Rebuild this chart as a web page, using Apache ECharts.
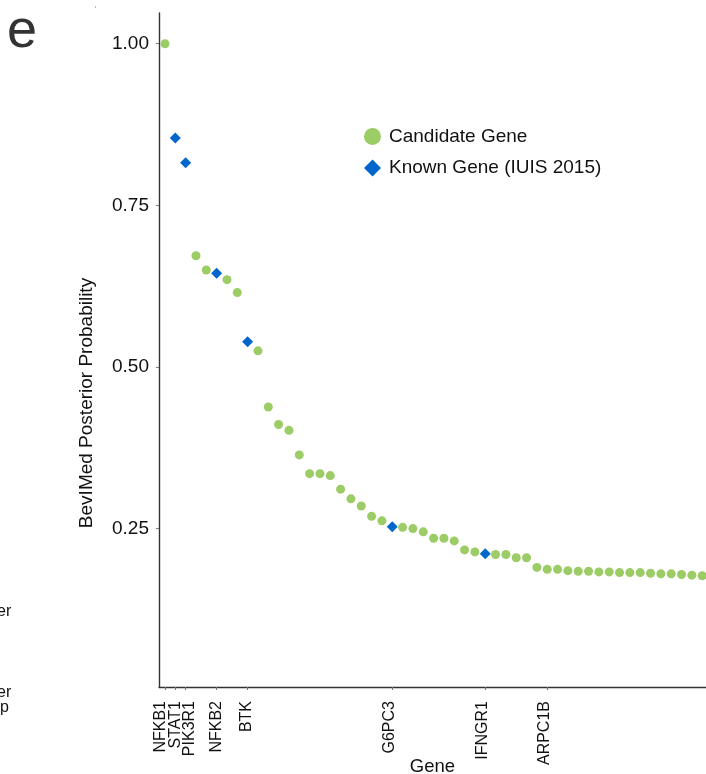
<!DOCTYPE html>
<html>
<head>
<meta charset="utf-8">
<script src="https://cdn.jsdelivr.net/npm/echarts@6/dist/echarts.min.js"></script>
<style>
  html, body { margin: 0; padding: 0; background: #fff; }
  #chart { width: 706px; height: 774px; }
</style>
</head>
<body>
<div id="chart"></div>
<script>
// Genes ranked by BeviMed posterior probability (rank 0 = highest)
const posterior = [
  1.000, 0.854, 0.816, 0.672, 0.650, 0.645, 0.635, 0.615, 0.539, 0.525,
  0.438, 0.411, 0.402, 0.364, 0.335, 0.335, 0.332, 0.311, 0.296, 0.285,
  0.269, 0.262, 0.253, 0.252, 0.250, 0.245, 0.235, 0.235, 0.231, 0.217,
  0.214, 0.211, 0.210, 0.210, 0.205, 0.205, 0.190, 0.187, 0.187, 0.185,
  0.184, 0.184, 0.183, 0.183, 0.182, 0.182, 0.182, 0.181, 0.180, 0.180,
  0.179, 0.178, 0.177
];
// ranks of genes already listed by IUIS 2015
const knownRanks = [1, 2, 5, 8, 22, 31];

// named genes along the x axis
const tickGenes = ['NFKB1', 'STAT1', 'PIK3R1', 'NFKB2', 'BTK', 'G6PC3', 'IFNGR1', 'ARPC1B'];
const tickRanks = [0, 1, 2, 5, 8, 22, 31, 37];

const yTicks = [0.25, 0.50, 0.75, 1.00];

// small sideways shifts (px) that keep the crowded gene labels apart
const labelShiftPx = [-4, 0, 4.3, 0, -1.5, -2.3, -2.5, -2.3];

const GREEN = '#9ccc65';
const BLUE = '#0066cc';
const FONT = '"Liberation Sans", Arial, Helvetica, sans-serif';

const X_MIN = -0.58, X_MAX = 52.37;
const GRID_W = 706 - 159;
const pxPerRank = GRID_W / (X_MAX - X_MIN);
const labelPos = tickRanks.map((r, i) => r + labelShiftPx[i] / pxPerRank);
// neighbouring labels go on two overlaid axes so none of them is dropped
const rowA = labelPos.filter((_, i) => i !== 1);
const rowB = labelPos.filter((_, i) => i === 1);

function geneAt(v) {
  let best = 0;
  labelPos.forEach((p, i) => { if (Math.abs(p - v) < Math.abs(labelPos[best] - v)) best = i; });
  return tickGenes[best];
}

const candidateData = [];
const knownData = [];
posterior.forEach((v, i) => {
  (knownRanks.includes(i) ? knownData : candidateData).push([i, v]);
});

const geneLabelStyle = {
  showMinLabel: true,
  showMaxLabel: true,
  hideOverlap: false,
  rotate: 90,
  margin: 14,
  fontSize: 16,
  color: '#111',
  fontFamily: FONT,
  formatter: geneAt
};

const chart = echarts.init(document.getElementById('chart'), null, { renderer: 'canvas' });

chart.setOption({
  animation: false,
  backgroundColor: '#fff',
  textStyle: { fontFamily: FONT },
  grid: { left: 159, top: 13, right: 0, bottom: 87, containLabel: false, outerBoundsMode: 'none' },
  legend: {
    orient: 'vertical',
    left: 359,
    top: 122,
    itemWidth: 17,
    itemHeight: 17,
    itemGap: 12.5,
    textStyle: { fontSize: 19, color: '#111', fontFamily: FONT, padding: [0, 0, 0, 3] },
    data: [
      { name: 'Candidate Gene', icon: 'circle', itemStyle: { color: GREEN } },
      { name: 'Known Gene (IUIS 2015)', icon: 'diamond', itemStyle: { color: BLUE } }
    ]
  },
  xAxis: [
    {
      type: 'value',
      min: X_MIN,
      max: X_MAX,
      name: 'Gene',
      nameLocation: 'middle',
      nameGap: 70,
      nameMoveOverlap: false,
      nameTextStyle: { fontSize: 18.5, color: '#111', fontFamily: FONT },
      splitLine: { show: false },
      axisLine: { show: true, onZero: false, lineStyle: { color: '#333', width: 1.4 } },
      axisTick: { show: true, length: 3, lineStyle: { color: '#777' }, customValues: tickRanks },
      axisLabel: Object.assign({ customValues: rowA }, geneLabelStyle)
    },
    {
      type: 'value',
      min: X_MIN,
      max: X_MAX,
      position: 'bottom',
      offset: 0,
      splitLine: { show: false },
      axisLine: { show: false },
      axisTick: { show: false },
      axisLabel: Object.assign({ customValues: rowB }, geneLabelStyle)
    }
  ],
  yAxis: {
    type: 'value',
    min: 0.005,
    max: 1.0475,
    splitLine: { show: false },
    axisLine: { show: true, onZero: false, lineStyle: { color: '#333', width: 1.4 } },
    axisTick: { show: true, length: 3, lineStyle: { color: '#777' }, customValues: yTicks },
    axisLabel: {
      customValues: yTicks,
      showMinLabel: true,
      showMaxLabel: true,
      margin: 10,
      fontSize: 19,
      color: '#111',
      fontFamily: FONT,
      formatter: v => v.toFixed(2)
    }
  },
  series: [
    {
      name: 'Candidate Gene',
      type: 'scatter',
      xAxisIndex: 0,
      symbol: 'circle',
      symbolSize: 9,
      itemStyle: { color: GREEN, opacity: 1 },
      clip: false,
      data: candidateData
    },
    {
      name: 'Known Gene (IUIS 2015)',
      type: 'scatter',
      xAxisIndex: 0,
      symbol: 'diamond',
      symbolSize: 11,
      itemStyle: { color: BLUE, opacity: 1 },
      clip: false,
      data: knownData
    }
  ],
  graphic: [
    {
      type: 'text',
      left: 7, top: 5,
      style: { text: 'e', font: '54px ' + FONT, fill: '#333' }
    },
    {
      type: 'text',
      x: 86.5, y: 403,
      rotation: Math.PI / 2,
      style: {
        text: 'BevIMed Posterior Probability',
        font: '19px ' + FONT,
        fill: '#111',
        textAlign: 'center',
        textVerticalAlign: 'middle'
      }
    },
    { type: 'text', x: -3, y: 612, style: { text: 'er', font: '16px ' + FONT, fill: '#111', textVerticalAlign: 'middle' } },
    { type: 'text', x: -3, y: 693, style: { text: 'er', font: '16px ' + FONT, fill: '#111', textVerticalAlign: 'middle' } },
    { type: 'text', x: 0, y: 708, style: { text: 'p', font: '16px ' + FONT, fill: '#111', textVerticalAlign: 'middle' } },
    { type: 'rect', shape: { x: 95, y: 6, width: 1, height: 2 }, style: { fill: '#bbb' } }
  ]
});
</script>
</body>
</html>
